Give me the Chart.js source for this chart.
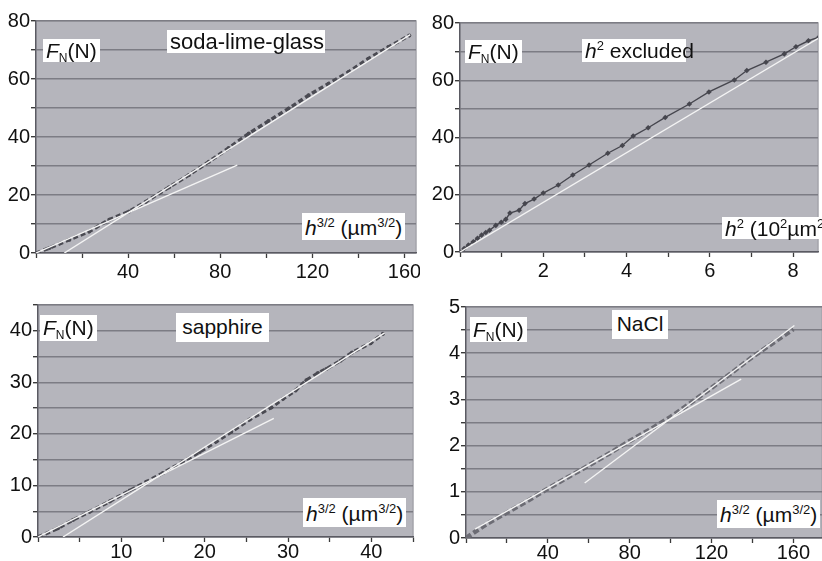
<!DOCTYPE html>
<html>
<head>
<meta charset="utf-8">
<script src="https://cdn.jsdelivr.net/npm/chart.js@4.4.0/dist/chart.umd.min.js"></script>
<style>
  body { margin: 0; width: 822px; height: 561px; overflow: hidden; position: relative; background: #fff;
         font-family: "Liberation Sans", Arial, sans-serif; }
  canvas { position: absolute; }
  .box { position: absolute; background: #fff; color: #111; font-size: 21px; white-space: nowrap;
         padding: 0 3px; box-sizing: border-box; }
  .box sup { font-size: 13px; line-height: 0; vertical-align: 8px; }
  .box sub { font-size: 12px; line-height: 0; vertical-align: -4px; }
  .title { text-align: center; }
</style>
</head>
<body>
<canvas id="glass" width="420" height="280" style="left:0;top:0"></canvas>
<canvas id="square" width="412" height="280" style="left:410px;top:0"></canvas>
<canvas id="sapphire" width="420" height="281" style="left:0;top:280px"></canvas>
<canvas id="nacl" width="412" height="281" style="left:410px;top:280px"></canvas>

<div class="box" style="left:43px;top:39px;height:23px;line-height:23px"><i>F</i><sub>N</sub>(N)</div>
<div class="box title" style="left:167px;top:30px;width:158px;height:23px;line-height:23px;font-size:22px">soda-lime-glass</div>
<div class="box" style="left:302px;top:213px;height:27px;line-height:29px"><i>h</i><sup>3/2</sup>&nbsp;(µm<sup>3/2</sup>)</div>

<div class="box" style="left:465px;top:40px;height:23px;line-height:23px"><i>F</i><sub>N</sub>(N)</div>
<div class="box title" style="left:582px;top:39px;width:104px;height:23px;line-height:24px"><i>h</i><sup>2</sup>&nbsp;excluded</div>
<div class="box" style="left:722px;top:217px;height:22px;line-height:24px"><i>h</i><sup>2</sup>&nbsp;(10<sup>2</sup>µm<sup>2</sup>)</div>

<div class="box" style="left:40px;top:315px;height:26px;line-height:26px"><i>F</i><sub>N</sub>(N)</div>
<div class="box title" style="left:176px;top:313px;width:93px;height:29px;line-height:27px">sapphire</div>
<div class="box" style="left:303px;top:498px;height:29px;line-height:31px"><i>h</i><sup>3/2</sup>&nbsp;(µm<sup>3/2</sup>)</div>

<div class="box" style="left:470px;top:317px;height:25px;line-height:25px"><i>F</i><sub>N</sub>(N)</div>
<div class="box title" style="left:612px;top:310px;width:56px;height:29px;line-height:27px">NaCl</div>
<div class="box" style="left:717px;top:500px;height:28px;line-height:30px"><i>h</i><sup>3/2</sup>&nbsp;(µm<sup>3/2</sup>)</div>

<script>
// soda-lime-glass, F_N vs h^3/2
const glassX = [0, 5.8, 14.5, 23.1, 31.8, 40.4, 47.7, 57.8, 66.4, 75.1, 83.7, 92.4, 101, 109.7, 118.4, 127, 135.7, 144.3, 153, 162.1];
const glassY = [0, 1.7, 4.6, 7.4, 11.5, 14.3, 17.7, 22.7, 26.9, 31.5, 36.2, 41.2, 45.5, 49.8, 54.4, 58.4, 62.4, 67, 71, 75];
const glassLowFitX = [0, 87.4];
const glassLowFitY = [0, 30.3];
const glassHighFitX = [12.3, 162.5];
const glassHighFitY = [0, 75.3];
const glassXLabels = [40, 80, 120, 160];
const glassYLabels = [0, 20, 40, 60, 80];

// h^2 excluded, F_N vs h^2
const squareX = [0, 0.1, 0.2, 0.32, 0.42, 0.52, 0.62, 0.71, 0.86, 0.99, 1.1, 1.2, 1.42, 1.56, 1.78, 2.0, 2.36, 2.71, 3.1, 3.55, 3.9, 4.16, 4.52, 4.93, 5.51, 5.98, 6.59, 6.89, 7.35, 7.79, 8.07, 8.37, 8.62];
const squareY = [0, 1.2, 2.4, 3.6, 4.8, 5.9, 6.8, 7.6, 9.3, 10.4, 11.4, 13.6, 14.6, 16.9, 18.5, 20.6, 23.4, 26.9, 30.4, 34.5, 37.2, 40.5, 43.4, 47, 51.7, 55.9, 60.1, 63.4, 66.3, 69.2, 71.7, 73.8, 75];
const squareFitX = [0, 8.65];
const squareFitY = [0, 75];
const squareXLabels = [2, 4, 6, 8];
const squareYLabels = [0, 20, 40, 60, 80];

// sapphire
const sapphireX = [0, 2.4, 4.2, 6.2, 8.6, 11, 13, 15, 17.4, 19.4, 21.4, 23.2, 25.4, 28, 29.4, 30.9, 32.2, 33.6, 34.6, 36.3, 37.7, 39.9, 41.4];
const sapphireY = [0, 1.7, 3.3, 4.9, 6.9, 9, 10.7, 12.4, 14.6, 16.5, 18.5, 20.4, 22.8, 25.1, 26.8, 28.4, 30.4, 31.8, 32.6, 34.2, 35.8, 37.6, 39.4];
const sapphireLowFitX = [0, 28.3];
const sapphireLowFitY = [0, 23];
const sapphireHighFitX = [3, 41.6];
const sapphireHighFitY = [0, 39.6];
const sapphireXLabels = [10, 20, 30, 40];
const sapphireYLabels = [0, 10, 20, 30, 40];

// NaCl
const naclX = [0, 10, 20, 30, 40, 50, 60, 70, 80, 90, 100, 110, 120, 130, 140, 150, 160];
const naclY = [0, 0.3, 0.55, 0.8, 1.07, 1.32, 1.57, 1.83, 2.1, 2.35, 2.62, 2.93, 3.25, 3.58, 3.92, 4.22, 4.52];
const naclLowFitX = [4.4, 134.5];
const naclLowFitY = [0.19, 3.44];
const naclHighFitX = [58, 160.5];
const naclHighFitY = [1.19, 4.6];
const naclXLabels = [40, 80, 120, 160];
const naclYLabels = [0, 1, 2, 3, 4, 5];

function pts(xs, ys) {
  return xs.map((x, i) => ({ x: x, y: ys[i] }));
}

const plotBg = {
  id: 'plotBg',
  beforeDraw(chart) {
    const a = chart.chartArea;
    const ctx = chart.ctx;
    ctx.save();
    ctx.fillStyle = '#b5b5bc';
    ctx.fillRect(a.left, a.top, a.right - a.left, a.bottom - a.top);
    ctx.strokeStyle = '#a4a4ab';
    ctx.lineWidth = 1.5;
    ctx.beginPath();
    ctx.moveTo(a.left, a.top);
    ctx.lineTo(a.right, a.top);
    ctx.lineTo(a.right, a.bottom);
    ctx.stroke();
    ctx.restore();
  }
};

function fitLine(xs, ys) {
  return { data: pts(xs, ys), borderColor: '#f4f4f4', borderWidth: 1.4, pointRadius: 0, order: 0 };
}

function makePanel(id, p) {
  const ctx = document.getElementById(id).getContext('2d');
  return new Chart(ctx, {
    type: 'line',
    data: { datasets: p.datasets },
    plugins: [plotBg],
    options: {
      responsive: false,
      animation: false,
      events: [],
      layout: { padding: { top: p.top, right: p.right, left: 0, bottom: 0 } },
      plugins: { legend: { display: false }, tooltip: { enabled: false } },
      elements: { line: { tension: 0 } },
      scales: {
        x: {
          type: 'linear', min: 0, max: p.xMax,
          afterFit: (s) => { s.height = p.xH; s.paddingLeft = 0; s.paddingRight = 0; },
          grid: { drawOnChartArea: false, drawTicks: true, tickLength: 5, tickColor: '#3a3a3a', tickWidth: 1.3 },
          border: { color: '#5a5a62', width: 1.5 },
          ticks: {
            stepSize: p.xStep, includeBounds: false, autoSkip: false, maxRotation: 0, padding: p.xPad,
            color: '#111', font: { family: 'Liberation Sans', size: 20 },
            callback: (v) => p.xLabels.includes(v) ? String(v) : ''
          }
        },
        y: {
          type: 'linear', min: 0, max: p.yMax,
          afterFit: (s) => { s.width = p.yW; s.paddingTop = 0; s.paddingBottom = 0; },
          grid: { color: '#7c7c84', lineWidth: 1.4, drawTicks: true, tickLength: 5, tickColor: '#3a3a3a' },
          border: { color: '#5a5a62', width: 1.5 },
          ticks: {
            stepSize: p.yStep, autoSkip: false, padding: 1,
            color: '#111', font: { family: 'Liberation Sans', size: 20 },
            callback: (v) => p.yLabels.includes(v) ? String(v) : ''
          }
        }
      }
    }
  });
}

makePanel('glass', {
  top: 21, right: 2, xH: 27, yW: 36, xMax: 165, xStep: 20, yMax: 80, yStep: 10, xPad: 2,
  xLabels: glassXLabels, yLabels: glassYLabels,
  datasets: [
    fitLine(glassHighFitX, glassHighFitY),
    fitLine(glassLowFitX, glassLowFitY),
    { data: pts(glassX, glassY), borderColor: '#4a4a52', borderWidth: 3.5, borderDash: [5, 3],
      pointRadius: 2, pointBackgroundColor: '#4a4a52', pointBorderWidth: 0, order: 1 }
  ]
});

makePanel('square', {
  top: 23, right: 0, xH: 28, yW: 50, xMax: 8.6, xStep: 1, yMax: 80, yStep: 10, xPad: 2,
  xLabels: squareXLabels, yLabels: squareYLabels,
  datasets: [
    fitLine(squareFitX, squareFitY),
    { data: pts(squareX, squareY), borderColor: '#46464e', borderWidth: 1.4,
      pointRadius: 2.8, pointStyle: 'rectRot', pointBackgroundColor: '#46464e', pointBorderWidth: 0, order: 1 }
  ]
});

makePanel('sapphire', {
  top: 25, right: 7, xH: 24, yW: 38, xMax: 45, xStep: 5, yMax: 45, yStep: 5, xPad: -2,
  xLabels: sapphireXLabels, yLabels: sapphireYLabels,
  datasets: [
    fitLine(sapphireHighFitX, sapphireHighFitY),
    fitLine(sapphireLowFitX, sapphireLowFitY),
    { data: pts(sapphireX, sapphireY), borderColor: '#4a4a52', borderWidth: 3.5, borderDash: [5, 3],
      pointRadius: 2, pointBackgroundColor: '#4a4a52', pointBorderWidth: 0, order: 1 }
  ]
});

makePanel('nacl', {
  top: 27, right: 0, xH: 23, yW: 56, xMax: 174, xStep: 20, yMax: 5, yStep: 0.5, xPad: -2,
  xLabels: naclXLabels, yLabels: naclYLabels,
  datasets: [
    fitLine(naclHighFitX, naclHighFitY),
    fitLine(naclLowFitX, naclLowFitY),
    { data: pts(naclX, naclY), borderColor: '#6c6c74', borderWidth: 4.5, borderDash: [6, 3],
      pointRadius: 0, order: 1 }
  ]
});
</script>
</body>
</html>
